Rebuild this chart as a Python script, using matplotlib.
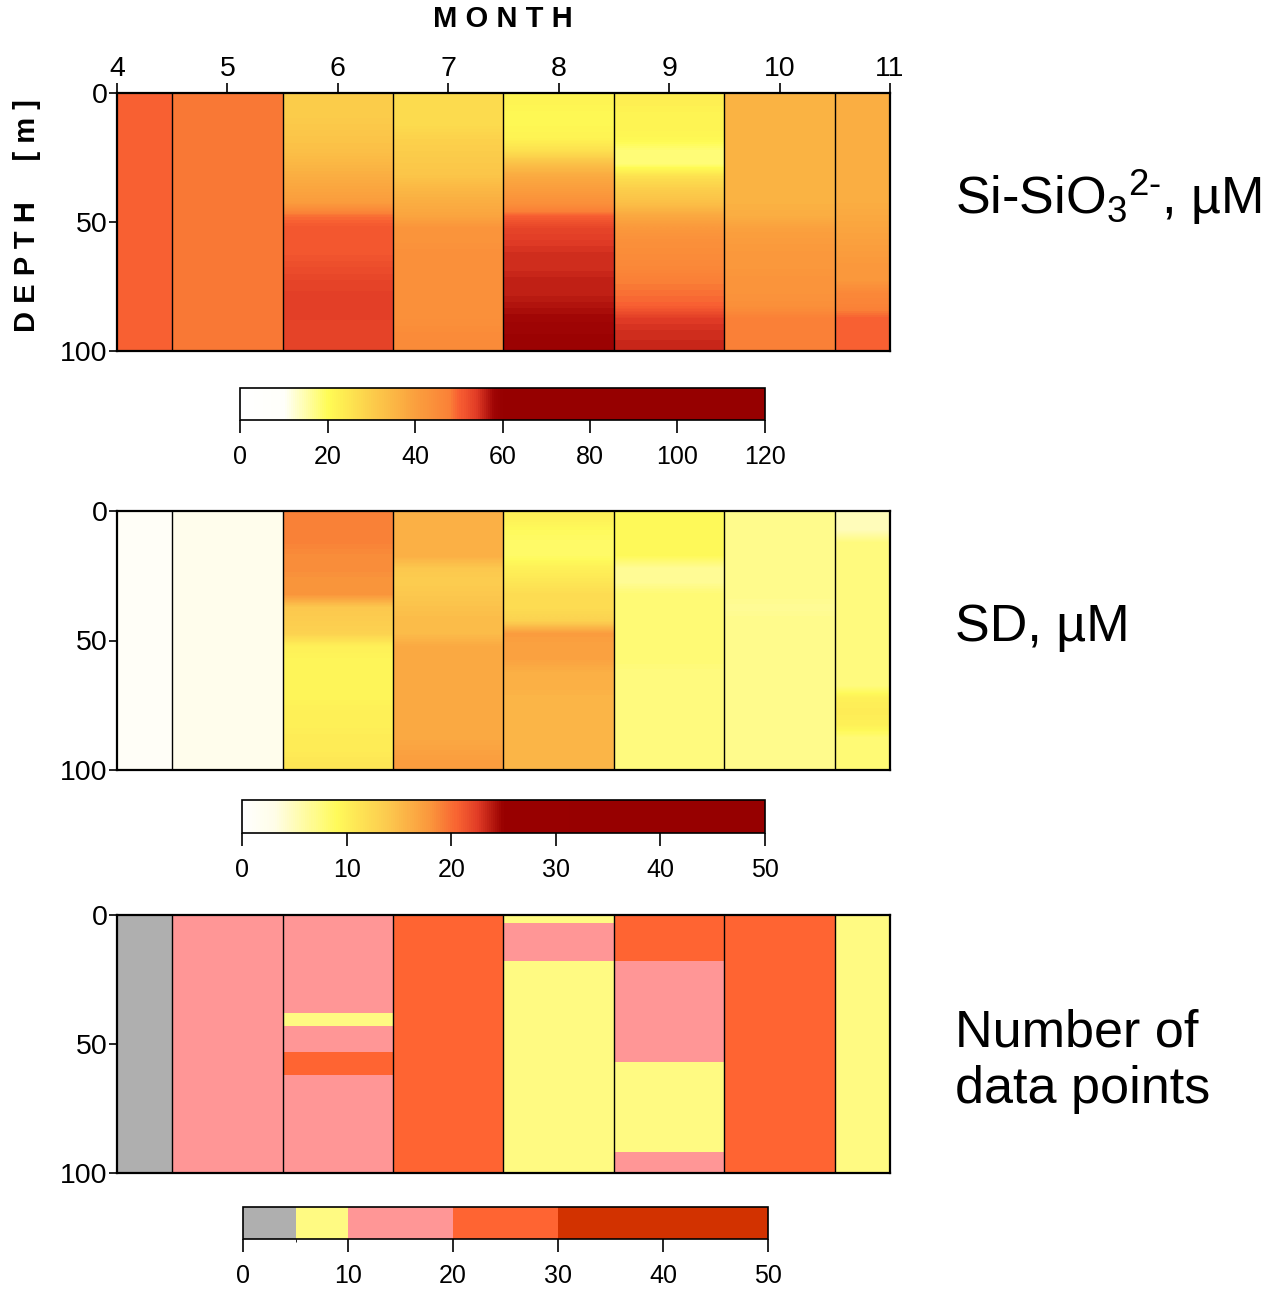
import numpy as np
import matplotlib
matplotlib.use("Agg")
from matplotlib import pyplot as plt
from matplotlib.colors import LinearSegmentedColormap, ListedColormap, BoundaryNorm

plt.rcParams["font.family"] = ["Liberation Sans", "DejaVu Sans"]
plt.rcParams["mathtext.fontset"] = "custom"
plt.rcParams["mathtext.rm"] = "Liberation Sans"
plt.rcParams["mathtext.it"] = "Liberation Sans"

# months and their column edges (first/last month are half columns)
months = [4, 5, 6, 7, 8, 9, 10, 11]
month_edges = [4, 4.5, 5.5, 6.5, 7.5, 8.5, 9.5, 10.5, 11]

# Si-SiO3, uM  (one list per month, 5 m layers 0-5 m ... 95-100 m)
si_m4 = [50, 50, 50, 50, 50, 50, 50, 50, 50, 50, 50, 50, 50, 50, 50, 50, 50, 50, 50, 50]
si_m5 = [48.5, 48.5, 48.5, 48.5, 48.5, 48.5, 48.5, 48.5, 48.5, 48.5, 48.5, 48.5, 48.5, 48.5, 48.5, 48.5, 48.5, 48.5, 48.5, 48.5]
si_m6 = [30, 30, 31, 32, 33, 35, 37, 39, 41, 49, 51, 51, 51, 52, 53, 53.5, 53.5, 53.5, 53, 53]
si_m7 = [27, 27, 27, 29, 30, 31, 32, 35, 37, 39, 43, 43, 44, 44, 44, 44, 44, 44, 45, 45]
si_m8 = [22, 21, 21, 22, 26, 33, 38, 41, 44, 50, 53, 54, 55, 55, 56, 56, 57, 58, 58.5, 59]
si_m9 = [23, 22, 22, 21, 18, 18, 26, 30, 33, 38, 42, 44, 45, 46, 48, 49, 50, 54, 55, 55.5]
si_m10 = [36, 36, 36, 36, 36, 36, 36, 36, 36, 37, 40, 41, 42, 42, 43, 43, 44, 48, 48, 48]
si_m11 = [37, 37, 37, 37, 37, 37, 37, 37, 37, 38, 39, 40, 41, 42, 42, 46, 47, 50, 50, 50]

# SD, uM
sd_m4 = [1, 1, 1, 1, 1, 1, 1, 1, 1, 1, 1, 1, 1, 1, 1, 1, 1, 1, 1, 1]
sd_m5 = [2.5, 2.5, 2.5, 2.5, 2.5, 2.5, 2.5, 2.5, 2.5, 2.5, 2.5, 2.5, 2.5, 2.5, 2.5, 2.5, 2.5, 2.5, 2.5, 2.5]
sd_m6 = [19, 19, 19, 18.5, 18.5, 18, 18, 14, 13.5, 13, 10, 9.5, 9.5, 9.5, 9.5, 10, 10, 10.5, 10.5, 11]
sd_m7 = [16, 16, 16, 16, 14, 13.5, 14, 14.5, 15, 15, 16.5, 16.5, 16.5, 16.5, 16.5, 16.5, 16.5, 16.5, 17, 17.5]
sd_m8 = [10, 9, 8.5, 8.5, 10, 11, 12, 12, 13, 17.5, 17, 17, 16, 16, 15.5, 15.5, 15.5, 15.5, 15.5, 15.5]
sd_m9 = [9, 9, 9, 9, 6.5, 6.5, 8, 8, 8, 8, 8, 8, 7.5, 7.5, 7.5, 7.5, 7.5, 7.5, 7.5, 7.5]
sd_m10 = [7, 7, 7, 7, 7, 7, 7, 6.5, 7, 7, 7, 7, 7, 7, 7, 7, 7, 7, 7, 7]
sd_m11 = [5, 5, 7.5, 7.5, 7.5, 7.5, 7.5, 7.5, 7.5, 7.5, 7.5, 7.5, 7.5, 7.5, 10, 10.5, 10, 8, 8, 8]

# number of data points, on its own depth bins
count_depth_edges = [0, 3, 18, 38, 43, 53, 57, 62, 92, 100]
n_m4 = [3, 3, 3, 3, 3, 3, 3, 3, 3]
n_m5 = [15, 15, 15, 15, 15, 15, 15, 15, 15]
n_m6 = [15, 15, 15, 8, 15, 25, 25, 15, 15]
n_m7 = [25, 25, 25, 25, 25, 25, 25, 25, 25]
n_m8 = [8, 12, 8, 8, 8, 8, 8, 8, 8]
n_m9 = [22, 22, 15, 15, 15, 15, 8, 8, 12]
n_m10 = [25, 25, 25, 25, 25, 25, 25, 25, 25]
n_m11 = [8, 8, 8, 8, 8, 8, 8, 8, 8]

si_ticks = [0, 20, 40, 60, 80, 100, 120]
sd_ticks = [0, 10, 20, 30, 40, 50]
n_ticks = [0, 10, 20, 30, 40, 50]
n_bounds = [0, 5, 10, 20, 30, 50]

si = np.array([si_m4, si_m5, si_m6, si_m7, si_m8, si_m9, si_m10, si_m11]).T
sd = np.array([sd_m4, sd_m5, sd_m6, sd_m7, sd_m8, sd_m9, sd_m10, sd_m11]).T
nn = np.array([n_m4, n_m5, n_m6, n_m7, n_m8, n_m9, n_m10, n_m11]).T


def rgb(r, g, b):
    return (r / 255, g / 255, b / 255)


# heat colour scales, nodes given as value fractions
si_cmap = LinearSegmentedColormap.from_list("si", [
    (0.0, rgb(255, 255, 255)), (10 / 120, rgb(255, 255, 250)),
    (20 / 120, rgb(255, 252, 85)), (30 / 120, rgb(252, 205, 75)),
    (40 / 120, rgb(250, 160, 62)), (48 / 120, rgb(250, 128, 55)),
    (50 / 120, rgb(248, 95, 50)), (54 / 120, rgb(225, 60, 38)),
    (58 / 120, rgb(160, 5, 5)), (60 / 120, rgb(150, 0, 0)), (1.0, rgb(150, 0, 0))])
sd_cmap = LinearSegmentedColormap.from_list("sd", [
    (0.0, rgb(255, 255, 255)), (3 / 50, rgb(255, 253, 232)),
    (9 / 50, rgb(255, 250, 90)), (14 / 50, rgb(252, 200, 78)),
    (18 / 50, rgb(250, 150, 60)), (20.5 / 50, rgb(248, 100, 50)),
    (22.5 / 50, rgb(225, 60, 38)), (25 / 50, rgb(152, 0, 0)), (1.0, rgb(150, 0, 0))])
n_cmap = ListedColormap([rgb(175, 175, 175), rgb(255, 250, 130), rgb(255, 150, 150),
                         rgb(255, 100, 50), rgb(210, 50, 0)])
n_norm = BoundaryNorm(n_bounds, n_cmap.N)

fig = plt.figure(figsize=(12.72, 12.89), dpi=100)

W, H = 1272, 1289


def px_axes(x0, y0, x1, y1):
    return fig.add_axes([x0 / W, 1 - y1 / H, (x1 - x0) / W, (y1 - y0) / H])


panels = [
    (si, dict(cmap=si_cmap, vmin=0, vmax=120), 93, 351, 388, 420, (240, 765), si_ticks,
     r"Si-SiO$_3$$^{\mathrm{2\text{-}}}$, µM", 197),
    (sd, dict(cmap=sd_cmap, vmin=0, vmax=50), 511, 770, 800, 833, (242, 765), sd_ticks,
     "SD, µM", 628),
    (nn, dict(cmap=n_cmap, norm=n_norm), 915, 1173, 1207, 1239, (243, 768), n_ticks,
     "Number of\ndata points", 1061),
]

for i, (data, kw, y0, y1, cy0, cy1, cx, cticks, label, ly) in enumerate(panels):
    ax = px_axes(117, y0, 890, y1)
    if i < 2:
        # smooth profile inside each month column
        for j in range(len(months)):
            mesh = ax.imshow(data[:, j:j + 1], extent=(month_edges[j], month_edges[j + 1], 100, 0),
                             aspect="auto", interpolation="bilinear",
                             interpolation_stage="data", **kw)
    else:
        mesh = ax.pcolormesh(month_edges, count_depth_edges, data, shading="flat", **kw)
    for xb in month_edges[1:-1]:
        ax.axvline(xb, color="black", lw=1.0)
    ax.set_xlim(4, 11)
    ax.set_ylim(100, 0)
    ax.set_yticks([0, 50, 100])
    for s in ax.spines.values():
        s.set_linewidth(1.6)
    ax.tick_params(axis="y", direction="out", length=6, width=1.2, labelsize=20.5, pad=1)
    if i == 0:
        ax.xaxis.tick_top()
        ax.set_xticks(months)
        ax.tick_params(axis="x", direction="out", length=7, width=1.2, labelsize=20.5, pad=1)
    else:
        ax.set_xticks([])

    cax = px_axes(cx[0], cy0, cx[1], cy1)
    if i == 2:
        cb = fig.colorbar(mesh, cax=cax, orientation="horizontal", spacing="proportional",
                          boundaries=n_bounds, ticks=cticks)
    else:
        cb = fig.colorbar(mesh, cax=cax, orientation="horizontal", ticks=cticks)
    cb.outline.set_linewidth(1.2)
    cax.tick_params(axis="x", direction="out", length=9, width=1.2, labelsize=18, pad=9)

    fig.text(955 / W, 1 - ly / H, label, fontsize=37.5, ha="left", va="center",
             linespacing=1.2)

fig.text(503 / W, 1 - 19 / H, "M O N T H", fontsize=21, fontweight="bold",
         ha="center", va="center")
fig.text(27 / W, 1 - 216 / H, "D E P T H     [ m ]", fontsize=21, fontweight="bold",
         ha="center", va="center", rotation=90)

fig.savefig("out.png", dpi=100)
